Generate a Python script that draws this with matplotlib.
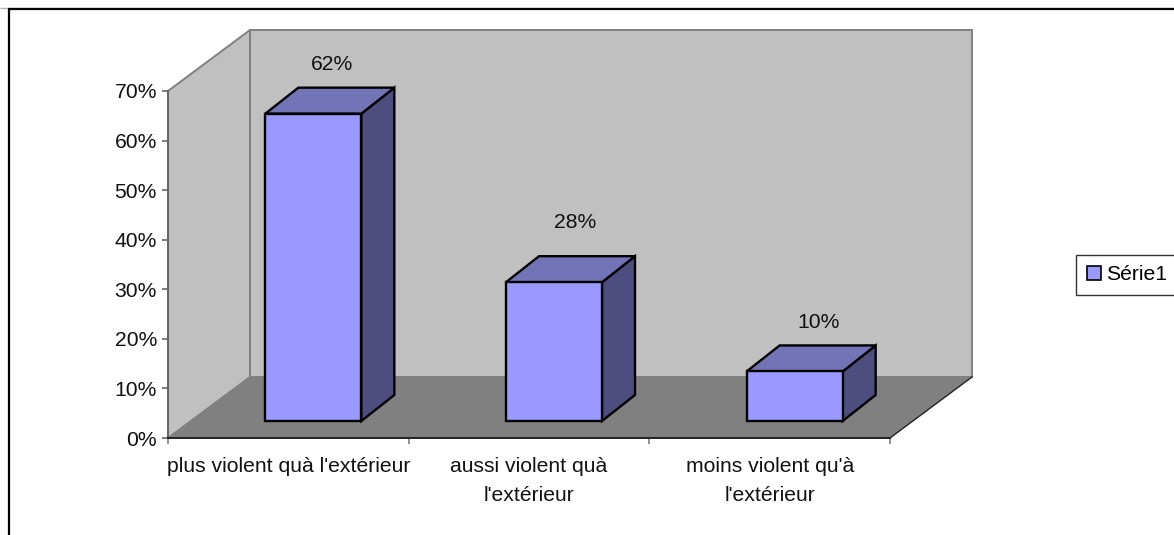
import matplotlib
matplotlib.use("Agg")
import matplotlib.pyplot as plt
from matplotlib.lines import Line2D
from matplotlib.patches import Patch, Polygon

plt.rcParams["font.family"] = ["Liberation Sans", "DejaVu Sans"]

categories = [
    "plus violent quà l'extérieur",
    "aussi violent quà\nl'extérieur",
    "moins violent qu'à\nl'extérieur",
]
values = [62, 28, 10]
y_ticks = [0, 10, 20, 30, 40, 50, 60, 70]
series_name = "Série1"

W, H = 1174, 535
FONT = 15.2

# where each value label sits relative to its bar, in pixels
label_dx = [67, 69, 72]
label_dy = [49, 60, 49]

fig = plt.figure(figsize=(W / 100, H / 100), dpi=100)
# the axes is the front plane of the fake 3d box
ax = fig.add_axes([168 / W, (H - 438) / H, 722 / W, 347 / H])
ax.set_xlim(0, 3)
ax.set_ylim(0, 70)
ax.patch.set_visible(False)

# pixels to data units
px_x = 3 / 722
px_y = 70 / 347
depth_x = 82 * px_x
depth_y = 61 * px_y


def poly(points, face, edge="none", lw=1.0, z=1):
    ax.add_patch(
        Polygon(points, closed=True, facecolor=face, edgecolor=edge, linewidth=lw,
                zorder=z, clip_on=False, joinstyle="miter")
    )


# Walls and floor
poly([(0, 0), (depth_x, depth_y), (depth_x, 70 + depth_y), (0, 70)], "#c0c0c0", "#808080", 1.4)
poly([(depth_x, depth_y), (3 + depth_x, depth_y), (3 + depth_x, 70 + depth_y), (depth_x, 70 + depth_y)],
     "#c0c0c0", "#808080", 1.4)
poly([(0, 0), (3, 0), (3 + depth_x, depth_y), (depth_x, depth_y)], "#808080")
ax.plot([3, 3 + depth_x], [0, depth_y], color="#222222", lw=1.0, zorder=2, clip_on=False)

# Bars
bar_w = 96 * px_x
shift_x = 25 * px_x
shift_y = 17 * px_y
bar_dx = 33 * px_x
bar_dy = 26 * px_y
for i, v in enumerate(values):
    x0 = i + 0.5 + shift_x - bar_w / 2
    x1 = x0 + bar_w
    y0 = shift_y
    y1 = shift_y + v
    poly([(x1, y0), (x1 + bar_dx, y0 + bar_dy), (x1 + bar_dx, y1 + bar_dy), (x1, y1)],
         "#4d4d80", "black", 1.7, 3)
    poly([(x0, y1), (x1, y1), (x1 + bar_dx, y1 + bar_dy), (x0 + bar_dx, y1 + bar_dy)],
         "#7373b8", "black", 1.7, 3)
    poly([(x0, y0), (x1, y0), (x1, y1), (x0, y1)], "#9999ff", "black", 1.7, 4)
    ax.text(x0 + label_dx[i] * px_x, y1 + label_dy[i] * px_y, f"{v}%", ha="center", va="center",
            fontsize=FONT, color="#111111", zorder=5)

# Axes
ax.spines["top"].set_visible(False)
ax.spines["right"].set_visible(False)
ax.spines["left"].set_color("#666666")
ax.spines["left"].set_linewidth(1.4)
ax.spines["bottom"].set_color("#222222")
ax.spines["bottom"].set_linewidth(1.4)
for s in ax.spines.values():
    s.set_zorder(6)

ax.set_yticks(y_ticks)
ax.set_yticklabels([f"{t}%" for t in y_ticks], fontsize=FONT, color="#111111")
ax.set_xticks([0, 1, 2, 3])
ax.set_xticklabels([])
ax.tick_params(axis="y", length=4, width=1.2, color="#666666", pad=4)
ax.tick_params(axis="x", length=4.5, width=1.2, color="#808080")

for i, label in enumerate(categories):
    ax.text(i + 0.5, -19 * px_y, label, ha="center", va="top", fontsize=FONT,
            color="#111111", linespacing=1.68, clip_on=False)

# Legend
leg = fig.legend(
    handles=[Patch(facecolor="#9999ff", edgecolor="black", linewidth=1.2, label=series_name)],
    loc="center left",
    bbox_to_anchor=(1076 / W, (H - 275) / H),
    fontsize=FONT,
    frameon=True,
    fancybox=False,
    edgecolor="#333333",
    borderaxespad=0,
    handlelength=0.68,
    handleheight=0.68,
    handletextpad=0.25,
    borderpad=0.5,
)
leg.get_frame().set_linewidth(1.0)
leg.get_frame().set_alpha(1)

# Outer frame, cut by the picture on the right and at the bottom
fig.add_artist(Line2D([0, 1], [1 - 7.5 / H] * 2, color="#b0b0b0", lw=1.0, solid_capstyle="butt"))
fig.add_artist(Line2D([8.5 / W, 8.5 / W], [0, 1 - 8.5 / H], color="black", lw=1.6, solid_capstyle="butt"))
fig.add_artist(Line2D([7.5 / W, 1], [1 - 9 / H] * 2, color="black", lw=1.6, solid_capstyle="butt"))

fig.savefig("out.png", dpi=100)
